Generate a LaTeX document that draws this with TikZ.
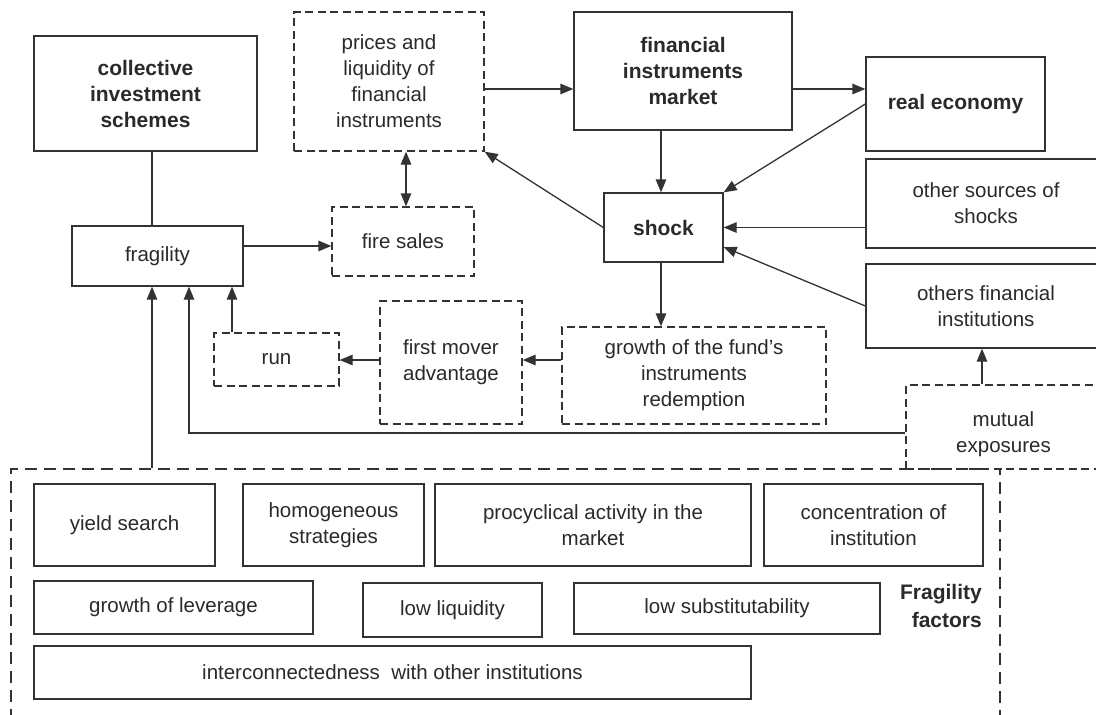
\documentclass[tikz,border=0pt]{standalone}
\usepackage{fontspec}
\setmainfont{Liberation Sans}
\usetikzlibrary{arrows.meta,calc}
\definecolor{lc}{HTML}{333333}
\definecolor{tc}{HTML}{2A2A2A}
\begin{document}
\begin{tikzpicture}[x=1pt,y=-1pt,
  box/.style={draw=lc,line width=1.3pt,inner sep=0pt,align=center,text=tc,font=\fontsize{20.5}{26}\selectfont},
  bbox/.style={box,font=\fontsize{21}{26}\selectfont\bfseries},
  dbox/.style={box,dash pattern=on 8pt off 4.5pt},
  fbox/.style={draw=lc,line width=1.3pt,dash pattern=on 12pt off 7pt,inner sep=0pt},
  arr/.style={draw=lc,line width=1.3pt,-{Triangle[length=13pt,width=10.5pt]}},
  dar/.style={draw=lc,line width=1.3pt,{Triangle[length=13pt,width=10.5pt]}-{Triangle[length=13pt,width=10.5pt]}},
  ln/.style={draw=lc,line width=1.3pt},
]
\useasboundingbox (0,0) rectangle (1096,715);
\clip (0,0) rectangle (1096,715);
\fill[white] (0,0) rectangle (1096,715);

% top part
\node[bbox,minimum width=223pt,minimum height=115pt] (coll) at (145.5,93.5) {collective\\investment\\schemes};
\node[dbox,minimum width=190pt,minimum height=139pt] (prices) at (389,81.5) {prices and\\liquidity of\\financial\\instruments};
\node[bbox,minimum width=218pt,minimum height=118pt] (market) at (683,71) {financial\\instruments\\market};
\node[bbox,minimum width=179pt,minimum height=94pt] (real) at (955.5,104) {real economy};
\node[box,minimum width=171pt,minimum height=60pt] (frag) at (157.5,256) {fragility};
\node[dbox,minimum width=142pt,minimum height=69pt] (fire) at (403,241.5) {fire sales};
\node[bbox,minimum width=119pt,minimum height=69pt] (shock) at (663.5,227.5) {shock};
\node[box,minimum width=240pt,minimum height=89pt] (other) at (986,203.5) {other sources of\\shocks};
\node[box,minimum width=240pt,minimum height=84pt] (ofin) at (986,306) {others financial\\institutions};
\node[dbox,minimum width=264pt,minimum height=97pt] (growth) at (694,375.5) {growth of the fund's\\instruments\\redemption};
\node[dbox,minimum width=142pt,minimum height=123pt] (first) at (451,362.5) {first mover\\advantage};
\node[dbox,minimum width=125pt,minimum height=53pt] (run) at (276.5,359.5) {run};
\node[dbox,minimum width=195pt,minimum height=84pt] (mutual) at (1003.5,427) {\rule{0pt}{30pt}mutual\\exposures};

% fragility factors
\node[fbox,minimum width=989pt,minimum height=271pt] (factors) at (505.5,604.5) {};
\node[box,minimum width=181pt,minimum height=82pt] (yield) at (124.5,525) {yield search};
\node[box,minimum width=181pt,minimum height=82pt] (homog) at (333.5,525) {homogeneous\\strategies};
\node[box,minimum width=316pt,minimum height=82pt] (procyc) at (593,525) {procyclical activity in the\\market};
\node[box,minimum width=219pt,minimum height=82pt] (conc) at (873.5,525) {concentration of\\institution};
\node[box,minimum width=279pt,minimum height=53pt] (lever) at (173.5,607.5) {growth of leverage};
\node[box,minimum width=179pt,minimum height=54pt] (lowliq) at (452.5,610) {low liquidity};
\node[box,minimum width=306pt,minimum height=51pt] (lowsub) at (727,608.5) {low substitutability};
\node[box,minimum width=717pt,minimum height=53pt] (inter) at (392.5,672.5) {interconnectedness\ \ with other institutions};
\node[anchor=east,align=right,inner sep=0pt,text=tc,font=\fontsize{21}{28}\selectfont\bfseries] (fflabel) at (982,606) {Fragility\\factors};

% helper coordinates
\coordinate (x152) at (152,0);
\coordinate (x189) at (189,0);
\coordinate (x232) at (232,0);
\coordinate (x406) at (406,0);
\coordinate (x661) at (661,0);
\coordinate (x982) at (982,0);
\coordinate (y89) at (0,89);
\coordinate (y246) at (0,246);
\coordinate (y360) at (0,360);
\coordinate (y433) at (0,433);

% connectors
\draw[ln] (x152 |- coll.south) -- (x152 |- frag.north);
\draw[arr] (prices.east |- y89) -- (market.west |- y89);
\draw[arr] (market.east |- y89) -- (real.west |- y89);
\draw[arr] (x661 |- market.south) -- (x661 |- shock.north);
\draw[arr] (real.west) -- (shock.north east);
\draw[arr] (other.west |- shock.east) -- (shock.east);
\draw[arr] (ofin.west) -- ($(shock.east)+(0,19.5)$);
\draw[arr] (shock.west) -- (prices.south east);
\draw[dar] (x406 |- prices.south) -- (x406 |- fire.north);
\draw[arr] (frag.east |- y246) -- (fire.west |- y246);
\draw[arr] (x661 |- shock.south) -- (x661 |- growth.north);
\draw[arr] (growth.west |- y360) -- (first.east |- y360);
\draw[arr] (first.west |- y360) -- (run.east |- y360);
\draw[arr] (x232 |- run.north) -- (x232 |- frag.south);
\draw[arr] (mutual.west |- y433) -- (x189 |- y433) -- (x189 |- frag.south);
\draw[arr] (x982 |- mutual.north) -- (x982 |- ofin.south);
\draw[arr] (x152 |- factors.north) -- (x152 |- frag.south);
\end{tikzpicture}
\end{document}
